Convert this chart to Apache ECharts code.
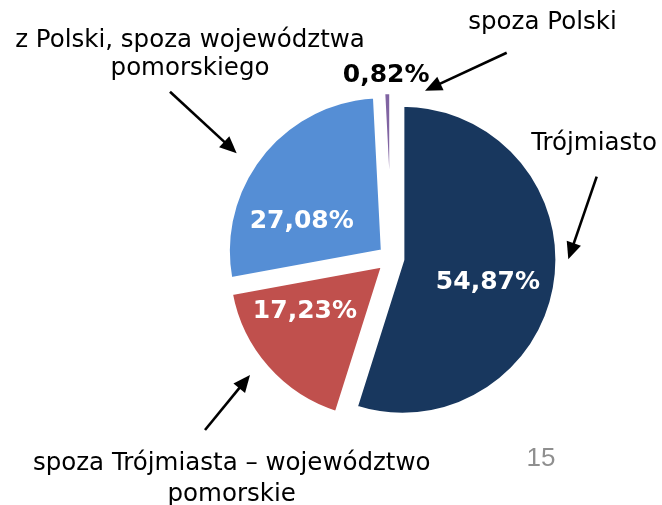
<!DOCTYPE html>
<html>
<head>
<meta charset="utf-8">
<script src="https://cdn.jsdelivr.net/npm/echarts@6/dist/echarts.min.js"></script>
<style>
html,body{margin:0;padding:0;background:#fff;}
#chart{width:662px;height:505px;}
</style>
</head>
<body>
<div id="chart"></div>
<script>
// ---- data ----
var categories = ['Trójmiasto', 'spoza Trójmiasta – województwo pomorskie', 'z Polski, spoza województwa pomorskiego', 'spoza Polski'];
var values = [54.87, 17.23, 27.08, 0.82];
var valueLabels = ['54,87%', '17,23%', '27,08%', '0,82%'];
var pageNumber = '15';

// ---- styles ----
var colors = ['#18375E', '#C0504D', '#558ED5', '#8064A2'];
var labelColors = ['#ffffff', '#ffffff', '#ffffff', '#000000'];
var labelOffsets = [[6, 11], [-18, -7], [-18, 20], [-3, -91]];

var chart = echarts.init(document.getElementById('chart'), null, {renderer: 'canvas'});

var data = categories.map(function (name, i) {
  return {
    name: name,
    value: values[i],
    selected: true,
    itemStyle: {color: colors[i], borderColor: '#ffffff', borderWidth: 4},
    select: {itemStyle: {color: colors[i], borderColor: '#ffffff', borderWidth: 4}},
    label: {
      show: true,
      position: 'inside',
      formatter: valueLabels[i],
      color: labelColors[i]
    }
  };
});

// category callouts (text + arrow)
var callouts = [
  {lines: ['Trójmiasto'], x: 594, top: 130, lh: 28, from: [596.7, 176.7], to: [568.3, 259.3]},
  {lines: ['spoza Trójmiasta – województwo', 'pomorskie'], x: 231.7, top: 448.5, lh: 31, from: [205, 430], to: [250, 375]},
  {lines: ['z Polski, spoza województwa', 'pomorskiego'], x: 190, top: 27, lh: 28, from: [170, 91.7], to: [236.7, 153.3]},
  {lines: ['spoza Polski'], x: 542.5, top: 8.7, lh: 28, from: [506.7, 52.7], to: [425, 90.7]}
];

var graphics = [];
callouts.forEach(function (c) {
  graphics.push({
    type: 'text',
    silent: true,
    style: {
      text: c.lines.join('\n'),
      x: c.x, y: c.top,
      align: 'center', verticalAlign: 'top',
      lineHeight: c.lh,
      font: '24.5px "DejaVu Sans"',
      fill: '#000000'
    }
  });
  var dx = c.to[0] - c.from[0], dy = c.to[1] - c.from[1];
  var len = Math.sqrt(dx * dx + dy * dy);
  var ux = dx / len, uy = dy / len;
  var headLen = 17, headW = 7.5;
  var bx = c.to[0] - ux * headLen, by = c.to[1] - uy * headLen;
  graphics.push({
    type: 'line', silent: true,
    shape: {x1: c.from[0], y1: c.from[1], x2: bx + ux * 2, y2: by + uy * 2},
    style: {stroke: '#000000', lineWidth: 2.6}
  });
  graphics.push({
    type: 'polygon', silent: true,
    shape: {points: [[c.to[0], c.to[1]], [bx - uy * headW, by + ux * headW], [bx + uy * headW, by - ux * headW]]},
    style: {fill: '#000000'}
  });
});
graphics.push({
  type: 'text', silent: true,
  style: {
    text: pageNumber, x: 541, y: 459, align: 'center', verticalAlign: 'middle',
    font: '26px "Liberation Sans"', fill: '#8f8f8f'
  }
});

chart.setOption({
  animation: false,
  backgroundColor: '#ffffff',
  series: [{
    type: 'pie',
    center: [391.5, 258],
    radius: [0, 155],
    startAngle: 90,
    clockwise: true,
    selectedMode: 'multiple',
    selectedOffset: 11,
    avoidLabelOverlap: false,
    emphasis: {disabled: true},
    label: {
      fontFamily: 'DejaVu Sans',
      fontWeight: 'bold',
      fontSize: 25
    },
    labelLine: {show: false},
    labelLayout: function (params) {
      var o = labelOffsets[params.dataIndex];
      return {dx: o[0], dy: o[1]};
    },
    data: data
  }],
  graphic: graphics
});
</script>
</body>
</html>
